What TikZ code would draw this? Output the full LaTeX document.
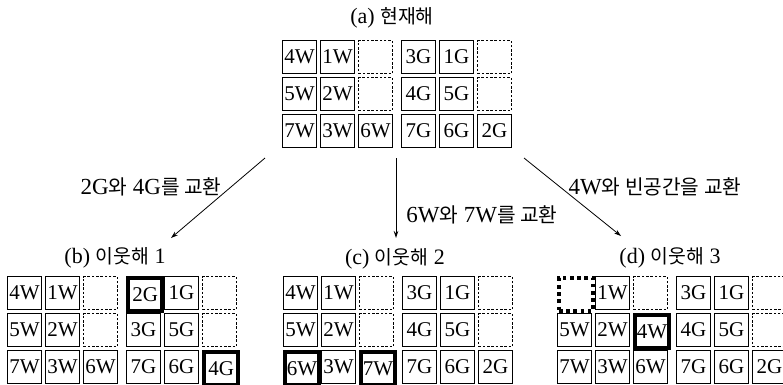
\documentclass[tikz,border=0pt]{standalone}
\usepackage{fontspec}
\setmainfont{Liberation Serif}
\newfontfamily\kr{Noto Sans CJK KR}[Scale=0.88]
\usetikzlibrary{arrows.meta}
\tikzset{
  tile/.style={draw, line width=1.1pt, minimum width=34pt, minimum height=33pt, inner sep=0pt,
    anchor=north west, font=\fontsize{21}{21}\selectfont},
  blank/.style={tile, line width=1pt, dash pattern=on 2.5pt off 1.8pt},
  hot/.style={tile, line width=4.2pt},
  hotblank/.style={tile, line width=4pt, dash pattern=on 3.6pt off 3.6pt},
  ttl/.style={font=\fontsize{22}{22}\selectfont, inner sep=0pt},
  lbl/.style={font=\fontsize{23}{23}\selectfont, inner sep=0pt},
  arr/.style={line width=0.8pt, -{Stealth[length=7pt,width=4.5pt]}},
}
% \tilegrid{prefix}{x}{y}{18 entries style/text}
\newcommand{\tilegrid}[4]{%
  \foreach \st/\tx [count=\i from 0] in {#4} {%
    \pgfmathtruncatemacro{\r}{int(\i/6)}%
    \pgfmathtruncatemacro{\c}{mod(\i,6)}%
    \pgfmathsetmacro{\xo}{{0,38,76,119,157,195}[\c]}%
    \node[\st] (#1\r\c) at ({#2+\xo},{#3+37*\r}) {\tx};
  }%
}
\begin{document}
\begin{tikzpicture}[x=1pt,y=-1pt]
\useasboundingbox (0,0) rectangle (783,384);

\node[ttl] (ta) at (392,18) {(a) {\kr 현재해}};
\tilegrid{a}{282}{40}{tile/4W,tile/1W,blank/,tile/3G,tile/1G,blank/,
  tile/5W,tile/2W,blank/,tile/4G,tile/5G,blank/,
  tile/7W,tile/3W,tile/6W,tile/7G,tile/6G,tile/2G}

\node[ttl] (tb) at (115,258) {(b) {\kr 이웃해} 1};
\tilegrid{b}{7}{276}{tile/4W,tile/1W,blank/,hot/2G,tile/1G,blank/,
  tile/5W,tile/2W,blank/,tile/3G,tile/5G,blank/,
  tile/7W,tile/3W,tile/6W,tile/7G,tile/6G,hot/4G}

\node[ttl] (tc) at (395,259) {(c) {\kr 이웃해} 2};
\tilegrid{c}{283}{276}{tile/4W,tile/1W,blank/,tile/3G,tile/1G,blank/,
  tile/5W,tile/2W,blank/,tile/4G,tile/5G,blank/,
  hot/6W,tile/3W,hot/7W,tile/7G,tile/6G,tile/2G}

\node[ttl] (td) at (670,258) {(d) {\kr 이웃해} 3};
\tilegrid{d}{557}{276}{hotblank/,tile/1W,blank/,tile/3G,tile/1G,blank/,
  tile/5W,tile/2W,hot/4W,tile/4G,tile/5G,blank/,
  tile/7W,tile/3W,tile/6W,tile/7G,tile/6G,tile/2G}

\coordinate (s1) at (265,158);
\coordinate (e1) at (171,238);
\coordinate (s2) at (396,158);
\coordinate (e2) at (396,238);
\coordinate (s3) at (524,158);
\coordinate (e3) at (621,236);
\draw[arr] (s1) -- (e1);
\draw[arr] (s2) -- (e2);
\draw[arr] (s3) -- (e3);

\node[lbl] (l1) at (151,187) {2G{\kr 와} 4G{\kr 를 교환}};
\node[lbl] (l2) at (482,215) {6W{\kr 와} 7W{\kr 를 교환}};
\node[lbl] (l3) at (655,187) {4W{\kr 와 빈공간을 교환}};
\end{tikzpicture}
\end{document}
